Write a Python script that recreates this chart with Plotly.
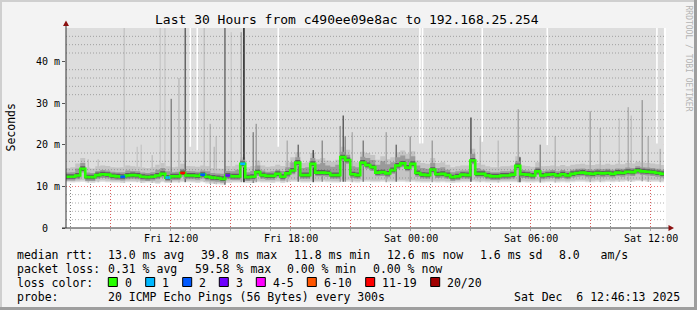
import plotly.graph_objects as go
import pandas as pd

# ---------------- data ----------------
# 15-minute bins (last one ends where the data stops)
bin_edges = list(pd.date_range("2025-12-05 06:44", periods=120, freq="15min")) + [pd.Timestamp("2025-12-06 12:40")]

median_ms = [
    12.3, 12.3, 12.6, 14.2, 12.2, 12.2, 12.7, 12.9, 12.8, 12.5, 12.4, 12.3, 12.6, 12.7, 12.6, 12.3, 12.2, 12.3, 12.6, 13.0,
    12.1, 12.4, 12.4, 13.2, 12.6, 12.6, 12.5, 12.8, 12.3, 12.1, 12.0, 11.8, 12.6, 12.4, 12.4, 15.4, 12.2, 12.3, 13.4, 12.7,
    12.5, 12.5, 13.0, 12.3, 13.1, 13.8, 15.7, 12.7, 12.7, 15.4, 13.3, 13.3, 13.2, 12.7, 12.7, 17.0, 16.3, 12.9, 12.7, 15.7,
    15.1, 14.6, 13.3, 13.4, 13.1, 13.9, 15.0, 15.5, 14.5, 15.4, 13.2, 12.8, 12.7, 14.0, 12.9, 13.0, 12.7, 12.2, 12.4, 12.8,
    12.7, 16.2, 13.0, 13.0, 12.6, 12.4, 12.4, 12.6, 12.6, 12.8, 14.9, 12.9, 12.8, 12.6, 13.6, 12.6, 12.8, 12.9, 12.6, 12.9,
    12.6, 13.0, 13.2, 13.3, 13.1, 13.0, 13.2, 13.1, 13.2, 13.0, 13.3, 13.2, 13.5, 13.4, 13.8, 13.6, 13.5, 13.4, 13.2, 13.0,
]
smoke_top_ms = [
    14.4, 14.6, 15.5, 16.8, 14.5, 14.3, 14.8, 15.0, 14.9, 14.6, 14.5, 14.6, 15.0, 14.8, 14.7, 14.5, 14.4, 14.6, 15.2, 15.6,
    14.8, 14.6, 14.7, 15.4, 14.9, 14.8, 14.7, 15.0, 14.8, 14.4, 14.3, 14.2, 14.9, 14.8, 15.2, 17.0, 14.6, 14.9, 16.2, 15.0,
    14.7, 14.8, 15.2, 14.9, 15.8, 17.0, 18.2, 15.6, 15.8, 18.0, 16.5, 16.8, 16.2, 15.9, 16.4, 19.5, 18.8, 16.0, 15.8, 18.3,
    18.0, 17.5, 16.4, 17.2, 16.5, 17.0, 18.2, 18.6, 17.8, 18.4, 16.2, 15.6, 15.4, 16.8, 15.6, 15.8, 15.2, 14.6, 14.8, 15.0,
    15.0, 19.0, 15.6, 15.2, 14.8, 14.6, 14.6, 14.8, 14.8, 15.0, 17.2, 15.0, 14.9, 14.7, 15.8, 14.8, 14.9, 15.0, 14.8, 15.1,
    14.8, 15.2, 15.3, 15.4, 15.2, 15.1, 15.3, 15.2, 15.4, 15.2, 15.4, 15.3, 15.6, 15.5, 15.9, 15.7, 15.6, 15.5, 15.3, 15.1,
]
smoke_bottom_ms = [
    11.0, 10.9, 11.0, 11.1, 10.9, 10.8, 11.0, 11.1, 11.0, 10.9, 10.9, 10.8, 11.0, 11.0, 11.0, 10.8, 10.9, 10.8, 10.6, 11.0,
    10.8, 10.9, 10.9, 11.0, 11.0, 10.9, 10.8, 11.0, 10.7, 10.6, 10.5, 10.4, 10.8, 10.9, 10.9, 11.0, 10.8, 10.8, 11.0, 10.9,
    10.9, 10.8, 11.0, 10.8, 11.0, 11.1, 11.1, 10.9, 10.9, 11.0, 11.0, 11.1, 11.0, 10.9, 10.9, 11.1, 11.1, 11.0, 10.9, 11.1,
    11.1, 11.0, 11.0, 11.1, 11.0, 11.0, 11.1, 11.1, 11.0, 11.1, 11.0, 10.9, 10.9, 11.0, 10.9, 11.0, 10.9, 10.8, 10.9, 11.0,
    11.0, 11.1, 11.0, 11.0, 10.9, 10.9, 10.9, 11.0, 11.0, 11.0, 11.0, 11.0, 10.9, 10.9, 11.0, 10.9, 11.0, 11.0, 10.9, 11.0,
    10.9, 11.0, 11.1, 11.1, 11.0, 11.0, 11.1, 11.0, 11.1, 11.0, 11.1, 11.1, 11.2, 11.1, 11.2, 11.2, 11.1, 11.1, 11.1, 11.0,
]

loss_bin_index = [11, 20, 23, 27, 32, 35]
loss_pings = [2, 1, 14, 2, 3, 1]

spike_time = [
    "2025-12-05 07:53", "2025-12-05 08:23", "2025-12-05 09:41", "2025-12-05 10:20", "2025-12-05 10:32",
    "2025-12-05 11:05", "2025-12-05 11:29", "2025-12-05 11:43", "2025-12-05 12:02", "2025-12-05 12:25",
    "2025-12-05 12:44", "2025-12-05 13:41", "2025-12-05 13:59", "2025-12-05 14:11", "2025-12-05 14:17",
    "2025-12-05 14:43", "2025-12-05 15:02", "2025-12-05 15:32", "2025-12-05 15:40", "2025-12-05 16:08",
    "2025-12-05 16:17", "2025-12-05 17:50", "2025-12-05 18:23", "2025-12-05 19:08", "2025-12-05 19:35",
    "2025-12-05 20:29", "2025-12-05 20:38", "2025-12-05 20:44", "2025-12-05 21:05", "2025-12-05 21:38",
    "2025-12-05 22:47", "2025-12-05 23:17", "2025-12-05 23:59", "2025-12-06 01:05", "2025-12-06 03:01",
    "2025-12-06 03:29", "2025-12-06 04:23", "2025-12-06 05:23", "2025-12-06 05:28", "2025-12-06 06:29",
    "2025-12-06 07:14", "2025-12-06 08:59", "2025-12-06 09:29", "2025-12-06 10:26", "2025-12-06 10:53",
    "2025-12-06 11:02", "2025-12-06 11:35", "2025-12-06 11:53", "2025-12-06 12:29",
]
spike_top_ms = [
    16.5, 16.5, 60, 19.5, 20,
    17.5, 60, 60, 31, 36,
    60, 60, 25, 19.5, 22,
    60, 47, 47, 60, 23,
    25, 21, 20, 18.7, 21,
    24.5, 27, 22, 23, 21,
    23, 20, 22, 21, 26.5,
    22, 21, 28.5, 17, 20,
    22, 28, 24, 26.3, 29,
    27, 30.7, 22, 19,
]
spike_shade = [
    "#c0c0c0", "#c4c4c4", "#c6c6c6", "#c8c8c8", "#c8c8c8",
    "#c0c0c0", "#cacaca", "#cacaca", "#888888", "#bdbdbd",
    "#666666", "#c2c2c2", "#b8b8b8", "#bcbcbc", "#c0c0c0",
    "#6e6e6e", "#cbcbcb", "#a8a8a8", "#1e1e1e", "#8a8a8a",
    "#a0a0a0", "#b0b0b0", "#707070", "#505050", "#909090",
    "#a0a0a0", "#606060", "#909090", "#b0b0b0", "#808080",
    "#a8a8a8", "#707070", "#a0a0a0", "#a0a0a0", "#555555",
    "#bdbdbd", "#c0c0c0", "#a8a8a8", "#505050", "#909090",
    "#b8b8b8", "#a8a8a8", "#b8b8b8", "#c4c4c4", "#b0b0b0",
    "#c0c0c0", "#a0a0a0", "#b0b0b0", "#b8b8b8",
]

gap_time = ["2025-12-05 12:59", "2025-12-05 13:20", "2025-12-05 17:23", "2025-12-06 00:28",
            "2025-12-06 00:36", "2025-12-06 03:35", "2025-12-06 06:50", "2025-12-06 12:19"]
gap_bottom_ms = [19.5, 18.7, 19.5, 20.3, 20.3, 20.7, 19.9, 20.3]

x_tick_vals = ["2025-12-05 09:00", "2025-12-05 12:00", "2025-12-05 15:00", "2025-12-05 18:00",
               "2025-12-05 21:00", "2025-12-06 00:00", "2025-12-06 03:00", "2025-12-06 06:00",
               "2025-12-06 09:00", "2025-12-06 12:00"]
x_tick_text = ["", "Fri 12:00", "", "Fri 18:00", "", "Sat 00:00", "", "Sat 06:00", "", "Sat 12:00"]
y_tick_vals = [0, 10, 20, 30, 40]
y_tick_text = ["0\u00a0\u00a0", "10 m", "20 m", "30 m", "40 m"]
y_minor_vals = [v for v in range(2, 48, 2) if v % 10]

loss_labels = ["0", "1", "2", "3", "4-5", "6-10", "11-19", "20/20"]
loss_colors = ["#26ff00", "#00b8ff", "#0059ff", "#6e00ff", "#ff00ff", "#ff5500", "#ff0000", "#a10000"]

title_text = "Last 30 Hours from c490ee09e8ac to 192.168.25.254"
stats_rtt = ["median rtt:", "13.0 ms avg", "39.8 ms max", "11.8 ms min", "12.6 ms now", "1.6 ms sd", "8.0\u00a0\u00a0\u00a0am/s"]
stats_loss = ["packet loss:", "0.31 % avg", "59.58 % max", "0.00 % min", "0.00 % now"]
probe_text = ["probe:", "20 ICMP Echo Pings (56 Bytes) every 300s", "Sat Dec\u00a0\u00a06 12:46:13 2025"]

# ---------------- layout constants ----------------
W, H = 697, 310
ML, MR, MT, MB = 66, 31, 28, 82
PW, PH = W - ML - MR, H - MT - MB
MONO = "DejaVu Sans Mono"
Y_MAX = 48
OFF = 60  # off-scale value for bars reaching the top
X_RANGE = ["2025-12-05 06:46:13", "2025-12-06 12:46:13"]


def pp(x, y):
    """pixel -> paper coordinates"""
    return (x - ML) / PW, (H - MB - y) / PH


fig = go.Figure()


def step(vals):
    return bin_edges, list(vals) + [vals[-1]]


def band(lo, hi, color):
    x, ylo = step(lo)
    _, yhi = step(hi)
    fig.add_trace(go.Scatter(x=x, y=ylo, mode="lines", line=dict(width=0, shape="hv"),
                             hoverinfo="skip", showlegend=False))
    fig.add_trace(go.Scatter(x=x, y=yhi, mode="lines", line=dict(width=0, shape="hv"),
                             fill="tonexty", fillcolor=color, hoverinfo="skip", showlegend=False))


def bin_of(t):
    t = pd.Timestamp(t)
    for i in range(len(bin_edges) - 1):
        if bin_edges[i] <= t < bin_edges[i + 1]:
            return i
    return len(bin_edges) - 2


n = len(median_ms)
# lightest smoke up to the top
band(smoke_bottom_ms, [OFF] * n, "#dddddd")
# white gaps
for t, b in zip(gap_time, gap_bottom_ms):
    fig.add_trace(go.Scatter(x=[t, t], y=[b, OFF], mode="lines", line=dict(color="#ffffff", width=1.6),
                             hoverinfo="skip", showlegend=False))
# mid smoke
band([v + 0.35 for v in smoke_bottom_ms], smoke_top_ms, "#c4c4c4")
# spikes
for t, top, shade in zip(spike_time, spike_top_ms, spike_shade):
    b = smoke_bottom_ms[bin_of(t)]
    fig.add_trace(go.Scatter(x=[t, t], y=[b, top], mode="lines", line=dict(color=shade, width=1.5),
                             hoverinfo="skip", showlegend=False))
# darker smoke near median
band([m - 0.9 for m in median_ms],
     [max(m + 1.0, s - 1.2) for m, s in zip(median_ms, smoke_top_ms)], "#9a9a9a")
band([m - 0.5 for m in median_ms], [m + 0.6 for m in median_ms], "#5e5e5e")

# median line
xm, ym = step(median_ms)
fig.add_trace(go.Scatter(x=xm, y=ym, mode="lines", line=dict(color=loss_colors[0], width=2.6, shape="hv"),
                         hoverinfo="skip", showlegend=False))


def loss_color(c):
    if c == 0:
        return loss_colors[0]
    if c <= 3:
        return loss_colors[c]
    if c <= 5:
        return loss_colors[4]
    if c <= 10:
        return loss_colors[5]
    if c <= 19:
        return loss_colors[6]
    return loss_colors[7]


for i, c in zip(loss_bin_index, loss_pings):
    fig.add_trace(go.Scatter(x=[bin_edges[i], bin_edges[i + 1]], y=[median_ms[i], median_ms[i]], mode="lines",
                             line=dict(color=loss_color(c), width=2.6), hoverinfo="skip", showlegend=False))

RED_GRID = "rgba(240,80,80,0.8)"
GRAY_GRID = "rgba(100,100,100,0.8)"
DASH = "1px,2px"

fig.update_xaxes(
    type="date", range=X_RANGE,
    tickmode="array", tickvals=x_tick_vals, ticktext=[""] * len(x_tick_vals), showticklabels=False,
    showgrid=True, gridcolor=RED_GRID, griddash=DASH, gridwidth=1,
    ticks="outside", ticklen=3, tickcolor="#e07070", tickwidth=1,
    minor=dict(dtick=3600000, tick0="2025-12-05 00:00", showgrid=True, gridcolor=GRAY_GRID,
               griddash=DASH, ticks="outside", ticklen=2, tickcolor="#aaaaaa"),
    showline=False, zeroline=False, layer="above traces", fixedrange=True,
)
fig.update_yaxes(
    range=[0, Y_MAX], tickmode="array", tickvals=y_tick_vals, ticktext=y_tick_text,
    showgrid=True, gridcolor=RED_GRID, griddash=DASH, gridwidth=1,
    ticks="outside", ticklen=3, tickcolor="#555555",
    tickfont=dict(family=MONO, size=10, color="#000"),
    showline=False, zeroline=False, layer="above traces", fixedrange=True,
)

shapes = []
# horizontal minor grid lines (drawn over the data like rrdtool)
for v in y_minor_vals:
    shapes.append(dict(type="line", xref="paper", yref="y", x0=0, x1=1, y0=v, y1=v, layer="above",
                       line=dict(color="rgba(100,100,100,0.5)", width=1, dash=DASH)))
# frame shading
for (ax, ay, bx, by, col) in [
    (0, 0, W, 2, "#cfcfcf"), (0, 0, 2, H, "#cfcfcf"),
    (0, H - 3, W, H, "#9e9e9e"), (W - 3, 0, W, H, "#9e9e9e"),
]:
    a = pp(ax, ay)
    b = pp(bx, by)
    shapes.append(dict(type="rect", xref="paper", yref="paper", x0=a[0], x1=b[0], y0=b[1], y1=a[1],
                       line=dict(width=0), fillcolor=col, layer="above"))
# axes
a = pp(66, 228); b = pp(66, 24)
shapes.append(dict(type="line", xref="paper", yref="paper", x0=a[0], x1=b[0], y0=a[1], y1=b[1],
                   line=dict(color="#333333", width=1)))
a = pp(62, 228); b = pp(670, 228)
shapes.append(dict(type="line", xref="paper", yref="paper", x0=a[0], x1=b[0], y0=a[1], y1=b[1],
                   line=dict(color="#333333", width=1)))


def tri(p1, p2, p3, col):
    q = [pp(*p) for p in (p1, p2, p3)]
    path = "M {} {} L {} {} L {} {} Z".format(q[0][0], q[0][1], q[1][0], q[1][1], q[2][0], q[2][1])
    shapes.append(dict(type="path", xref="paper", yref="paper", path=path, fillcolor=col,
                       line=dict(width=0)))


tri((66, 20.5), (63, 26), (69, 26), "#8b1010")
tri((674, 228), (668.5, 225), (668.5, 231), "#8b1010")

# loss colour boxes
box_left = [108.3, 145.7, 182.7, 219.3, 256.3, 307.3, 365.7, 430.7]
for bx, col in zip(box_left, loss_colors):
    a = pp(bx, 277.5)
    b = pp(bx + 9, 286.5)
    shapes.append(dict(type="rect", xref="paper", yref="paper", x0=a[0], x1=b[0], y0=b[1], y1=a[1],
                       fillcolor=col, line=dict(color="#000000", width=1)))

fig.update_layout(shapes=shapes)


def text(x, y, s, size=11.5, anchor="left", color="#000000", angle=0):
    xp, yp = pp(x, y)
    fig.add_annotation(x=xp, y=yp, xref="paper", yref="paper", text=s, showarrow=False,
                       xanchor=anchor, yanchor="middle", borderpad=0, textangle=angle,
                       font=dict(family=MONO, size=size, color=color))


# x tick labels (placed on the data axis)
for tv, tt in zip(x_tick_vals, x_tick_text):
    if tt:
        fig.add_annotation(x=tv, xref="x", y=pp(0, 238)[1], yref="paper", text=tt, showarrow=False,
                           xanchor="center", yanchor="middle", borderpad=0,
                           font=dict(family=MONO, size=10, color="#000000"))

text(347.3, 19.5, title_text, size=13, anchor="center")
text(10.5, 128, "Seconds", size=11.5, anchor="center", angle=-90)
text(688, 58.5, "RRDTOOL / TOBI OETIKER", size=8, anchor="center", color="#b4b4b4", angle=90)

for x, s in zip([16, 107.3, 200, 293.3, 386, 479.3, 558.3], stats_rtt):
    text(x, 254.5, s)
for x, s in zip([16, 107.3, 193.5, 286, 372.3], stats_loss):
    text(x, 268.5, s)
text(16, 282.5, "loss color:")
for bx, s in zip(box_left, loss_labels):
    text(bx + 15.5, 282.5, s)
text(16, 296.5, probe_text[0])
text(107.3, 296.5, probe_text[1])
text(513.3, 296.5, probe_text[2])

fig.update_layout(
    width=W, height=H, margin=dict(l=ML, r=MR, t=MT, b=MB, pad=0),
    paper_bgcolor="#f3f3f3", plot_bgcolor="#ffffff", showlegend=False,
    font=dict(family=MONO, size=10, color="#000000"),
)

fig.write_html("out.html", config={"displayModeBar": False})
